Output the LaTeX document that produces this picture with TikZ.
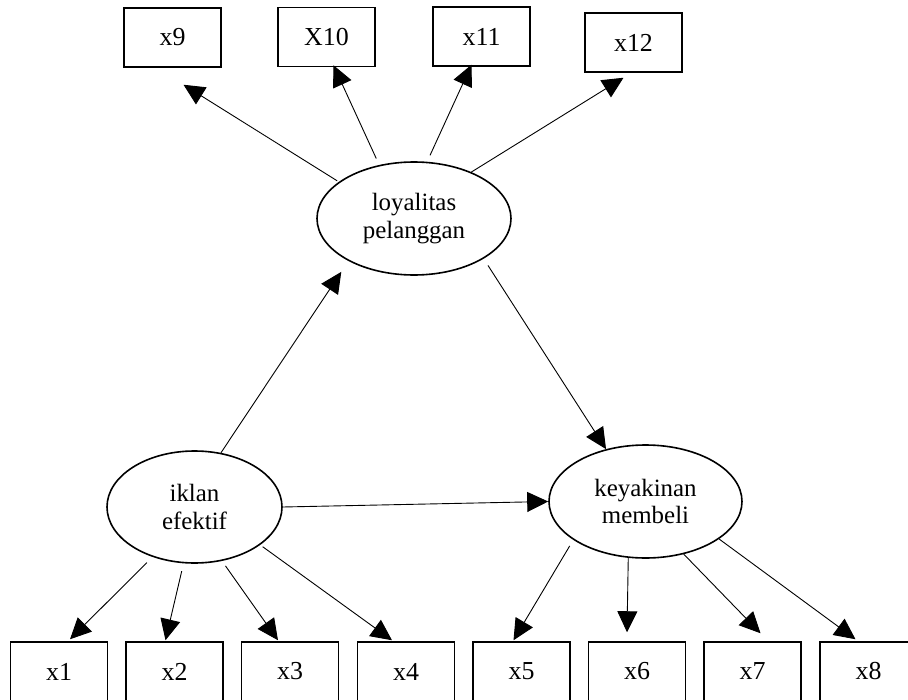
\documentclass[tikz,border=0pt]{standalone}
\usepackage{fontspec}
\setmainfont{Liberation Serif}
\usetikzlibrary{shapes.geometric,arrows.meta,calc}
\begin{document}
\begin{tikzpicture}[x=1bp,y=-1bp,
  obs/.style={draw,line width=1.5bp,minimum width=97bp,minimum height=59bp,inner sep=0pt,
    font=\fontsize{26}{30}\selectfont},
  lat/.style={draw,ellipse,line width=1.6bp,inner sep=0pt,align=center,
    font=\fontsize{25}{28}\selectfont},
  conn/.style={line width=0.9bp,-{Triangle[length=21bp,width=20bp]}}]
\useasboundingbox (0,0) rectangle (908,700);
% top indicators
\node[obs] (x9)  at (172.5,37.5) {x9};
\node[obs] (x10) at (326.5,37)   {X10};
\node[obs] (x11) at (481.5,36.5) {x11};
\node[obs] (x12) at (633.5,42.5) {x12};
% bottom indicators
\node[obs] (x1) at (59,671.5)    {x1};
\node[obs] (x2) at (174.5,671.5) {x2};
\node[obs] (x3) at (290,671.5)   {x3};
\node[obs] (x4) at (406,671.5)   {x4};
\node[obs] (x5) at (521.5,671.5) {x5};
\node[obs] (x6) at (637,671.5)   {x6};
\node[obs] (x7) at (752.5,671.5) {x7};
\node[obs] (x8) at (868.5,671.5) {x8};
% latent variables
\node[lat,minimum width=194bp,minimum height=113bp] (loy) at (414,218.5) {loyalitas\\pelanggan};
\node[lat,minimum width=175bp,minimum height=112bp] (ikl) at (194.5,507) {iklan\\efektif};
\node[lat,minimum width=193bp,minimum height=113bp] (key) at (645.5,501.5) {keyakinan\\membeli};
% connectors
\draw[conn,shorten <=2bp] (loy.154) -- ($(x9.south)+(11,17)$);
\draw[conn,shorten <=7bp] (loy.123) -- ($(x10.south)+(7,-2)$);
\draw[conn,shorten <=7bp] (loy.77) -- ($(x11.south)+(-10,-2)$);
\draw[conn] (loy.39) -- ($(x12.south)+(-10,5)$);
\draw[conn,shorten <=8bp] (loy.-30) -- (key.127);
\draw[conn,shorten >=13bp] (ikl.64) -- (loy.213);
\draw[conn] (ikl.east) -- (key.west);
\draw[conn,shorten <=8bp] (ikl.-130) -- ($(x1.north)+(11,-2)$);
\draw[conn,shorten <=8bp] (ikl.-101) -- ($(x2.north)+(-9,-1)$);
\draw[conn,shorten <=6bp] (ikl.-63) -- ($(x3.north)+(-12,-1)$);
\draw[conn,shorten <=3bp] (ikl.-30) -- ($(x4.north)+(-14,-1)$);
\draw[conn,shorten <=7bp] (key.-152) -- ($(x5.north)+(-8,-1)$);
\draw[conn] (key.-107) -- ($(x6.north)+(-10,-9)$);
\draw[conn] (key.-54) -- ($(x7.north)+(8,-8)$);
\draw[conn] (key.-27) -- ($(x8.north)+(-13,-2)$);
\end{tikzpicture}
\end{document}
